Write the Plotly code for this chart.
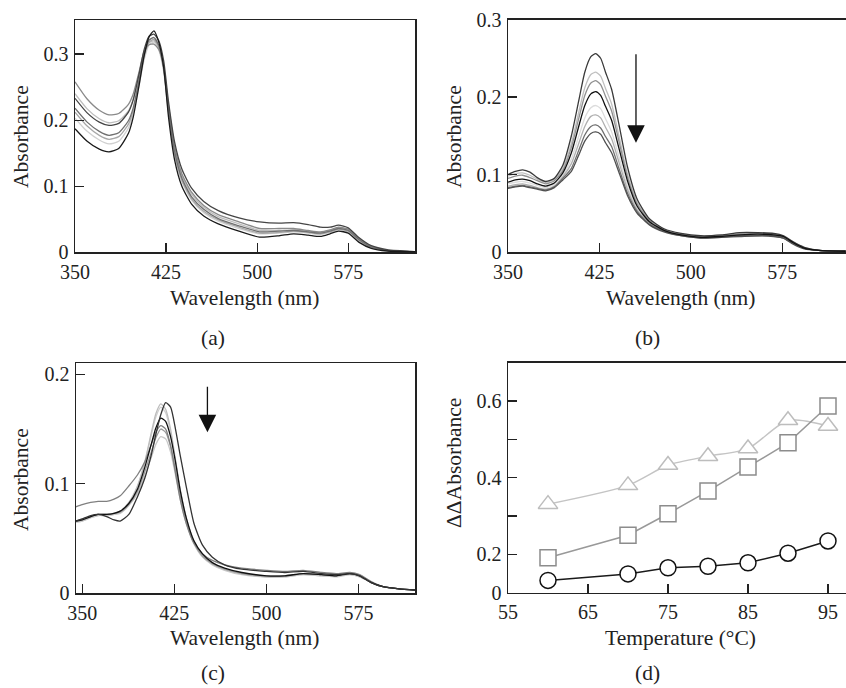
import plotly.graph_objects as go

# ---------------- data ----------------
# Panel (a)
a_wl = [350, 360, 370, 378, 386, 394, 398, 403, 407, 411, 415, 419, 423, 427, 432, 438, 446, 456, 468, 485,
        502, 518, 530, 542, 552, 560, 567, 575, 584, 594, 607, 630]
a_s1 = [.187, .168, .156, .152, .157, .180, .205, .255, .298, .326, .335, .318, .280, .205, .140, .100, .073, .055, .043, .032,
        .023, .025, .028, .026, .024, .028, .032, .029, .015, .006, .002, .001]
a_s2 = [.203, .183, .170, .164, .168, .188, .210, .255, .292, .314, .318, .306, .274, .210, .148, .107, .079, .060, .047, .036,
        .028, .029, .031, .029, .027, .030, .034, .031, .017, .007, .003, .001]
a_s3 = [.212, .191, .177, .171, .175, .194, .215, .260, .297, .318, .322, .310, .277, .213, .150, .109, .081, .062, .049, .038,
        .029, .030, .032, .030, .028, .031, .035, .032, .018, .008, .003, .001]
a_s4 = [.218, .197, .183, .177, .181, .199, .219, .263, .300, .321, .325, .313, .280, .216, .153, .112, .084, .065, .051, .040,
        .031, .032, .033, .031, .029, .032, .036, .033, .019, .008, .003, .001]
a_s5 = [.233, .211, .197, .192, .195, .212, .231, .272, .307, .327, .330, .320, .290, .228, .167, .126, .097, .077, .063, .052,
        .046, .044, .045, .042, .038, .038, .041, .037, .022, .010, .004, .001]
a_s6 = [.240, .217, .202, .196, .199, .214, .232, .270, .303, .317, .320, .310, .281, .220, .158, .116, .088, .068, .054, .043,
        .033, .033, .034, .032, .030, .033, .037, .034, .020, .009, .003, .001]
a_s7 = [.258, .232, .215, .208, .210, .224, .240, .275, .304, .314, .315, .307, .281, .222, .161, .119, .091, .071, .057, .046,
        .036, .036, .036, .033, .031, .034, .038, .035, .021, .009, .003, .001]

# Panel (b)
b_wl = [350, 356, 362, 368, 374, 381, 388, 395, 402, 408, 413, 418, 422, 426, 430, 435, 441, 448, 456, 466,
        478, 492, 508, 525, 540, 555, 568, 576, 584, 593, 605, 627]
b_s1 = [.100, .104, .106, .103, .096, .091, .095, .112, .150, .195, .232, .252, .256, .250, .232, .210, .165, .110, .068, .043,
        .030, .024, .021, .022, .025, .025, .024, .021, .013, .006, .002, .001]
b_s2 = [.098, .101, .102, .099, .094, .090, .094, .108, .140, .180, .212, .229, .232, .227, .211, .191, .150, .101, .064, .041,
        .029, .023, .020, .021, .024, .024, .023, .021, .013, .006, .002, .001]
b_s3 = [.095, .098, .099, .096, .092, .088, .092, .105, .135, .172, .202, .218, .221, .216, .201, .182, .143, .097, .062, .040,
        .029, .023, .020, .021, .023, .024, .023, .020, .012, .005, .002, .001]
b_s4 = [.090, .093, .094, .092, .088, .085, .089, .102, .128, .162, .189, .204, .207, .202, .188, .170, .134, .092, .059, .039,
        .028, .022, .019, .020, .022, .023, .022, .020, .012, .005, .002, .001]
b_s5 = [.088, .090, .091, .089, .086, .083, .087, .099, .120, .149, .173, .186, .189, .185, .172, .155, .123, .085, .056, .038,
        .028, .022, .019, .020, .022, .022, .022, .019, .011, .005, .002, .001]
b_s6 = [.085, .087, .088, .086, .083, .081, .085, .097, .114, .140, .162, .175, .177, .173, .161, .146, .116, .081, .054, .037,
        .027, .021, .019, .020, .021, .022, .021, .019, .011, .005, .002, .001]
b_s7 = [.083, .085, .086, .084, .082, .080, .084, .095, .108, .131, .151, .162, .164, .160, .149, .136, .108, .076, .052, .036,
        .027, .021, .018, .019, .021, .021, .021, .018, .011, .005, .002, .001]
b_s8 = [.082, .084, .085, .083, .081, .079, .083, .093, .104, .125, .143, .153, .155, .152, .141, .128, .103, .073, .050, .035,
        .026, .021, .018, .019, .020, .021, .020, .018, .010, .004, .002, .001]

# Panel (c)
c_wl = [345, 350, 357, 363, 370, 376, 381, 388, 395, 401, 406, 410, 414, 418, 422, 426, 430, 435, 441, 448,
        456, 466, 480, 500, 515, 530, 545, 557, 568, 576, 585, 595, 608, 621]
c_s1 = [.066, .068, .071, .072, .070, .067, .066, .072, .088, .105, .125, .145, .163, .174, .170, .150, .125, .096, .064, .044,
        .033, .026, .022, .020, .019, .020, .018, .017, .018, .016, .010, .006, .004, .003]
c_s2 = [.079, .081, .083, .084, .084, .086, .089, .098, .108, .120, .135, .147, .153, .150, .135, .110, .085, .063, .046, .036,
        .030, .026, .023, .021, .020, .021, .019, .018, .019, .017, .011, .006, .004, .003]
c_s3 = [.066, .067, .070, .072, .072, .073, .075, .082, .095, .115, .135, .151, .160, .157, .143, .120, .093, .068, .048, .036,
        .028, .023, .019, .016, .016, .018, .017, .016, .018, .016, .010, .006, .004, .003]
c_s4 = [.066, .067, .070, .072, .072, .073, .075, .083, .098, .120, .145, .164, .173, .168, .150, .122, .094, .068, .048, .035,
        .027, .022, .018, .015, .016, .018, .017, .016, .018, .016, .010, .006, .004, .003]
c_s5 = [.065, .066, .069, .071, .071, .072, .074, .082, .097, .119, .143, .161, .170, .165, .147, .120, .092, .067, .047, .034,
        .027, .022, .018, .015, .015, .017, .016, .016, .017, .015, .010, .006, .004, .003]
c_s6 = [.066, .067, .070, .072, .072, .073, .074, .081, .093, .111, .128, .142, .150, .147, .134, .112, .088, .065, .046, .034,
        .027, .022, .018, .016, .016, .018, .017, .016, .018, .016, .010, .006, .004, .003]
c_s7 = [.065, .066, .069, .071, .071, .072, .073, .080, .091, .107, .123, .136, .143, .141, .129, .108, .085, .063, .045, .033,
        .026, .021, .017, .015, .015, .017, .016, .015, .017, .015, .010, .006, .004, .003]

# Panel (d)
d_temp = [60, 70, 75, 80, 85, 90, 95]
d_circle = [0.132, 0.149, 0.165, 0.169, 0.178, 0.203, 0.235]
d_square = [0.191, 0.250, 0.306, 0.365, 0.428, 0.491, 0.587]
d_triangle = [0.331, 0.380, 0.433, 0.456, 0.476, 0.550, 0.535]

x_ticks_spec = [350, 425, 500, 575]
d_ticks_x = [55, 65, 75, 85, 95]
d_ticks_y = [0.1, 0.2, 0.3, 0.4, 0.5, 0.6]
d_ticks_y_text = ["0", "0.2", "", "0.4", "", "0.6"]

# ---------------- style ----------------
FONT = "Liberation Serif"
INK = "#222222"
W, H = 846, 688

a_series = [(a_s6, "#bdbdbd"), (a_s2, "#d0d0d0"), (a_s3, "#a8a8a8"), (a_s7, "#8a8a8a"),
            (a_s4, "#707070"), (a_s5, "#454545"), (a_s1, "#1a1a1a")]
b_series = [(b_s5, "#dcdcdc"), (b_s2, "#c0c0c0"), (b_s6, "#b0b0b0"), (b_s3, "#909090"),
            (b_s7, "#707070"), (b_s8, "#505050"), (b_s1, "#3a3a3a"), (b_s4, "#111111")]
c_series = [(c_s5, "#d0d0d0"), (c_s7, "#c8c8c8"), (c_s4, "#bdbdbd"), (c_s6, "#9a9a9a"),
            (c_s2, "#808080"), (c_s3, "#111111"), (c_s1, "#333333")]

fig = go.Figure()


def add_spectra(series, wl, xa, ya):
    for ys, col in series:
        fig.add_trace(go.Scatter(x=wl, y=ys, mode="lines", xaxis=xa, yaxis=ya,
                                 line=dict(color=col, width=1.3, shape="spline", smoothing=0.6),
                                 showlegend=False, hoverinfo="skip"))


add_spectra(a_series, a_wl, "x", "y")
add_spectra(b_series, b_wl, "x2", "y2")
add_spectra(c_series, c_wl, "x3", "y3")

fig.add_trace(go.Scatter(x=d_temp, y=d_triangle, mode="lines+markers", xaxis="x4", yaxis="y4",
                         line=dict(color="#c4c4c4", width=1.5, shape="spline", smoothing=0.7),
                         marker=dict(symbol="triangle-up", size=17, color="white",
                                     line=dict(color="#bdbdbd", width=1.5)),
                         showlegend=False, hoverinfo="skip", cliponaxis=False))
fig.add_trace(go.Scatter(x=d_temp, y=d_square, mode="lines+markers", xaxis="x4", yaxis="y4",
                         line=dict(color="#999999", width=1.5),
                         marker=dict(symbol="square", size=16, color="white",
                                     line=dict(color="#8c8c8c", width=1.5)),
                         showlegend=False, hoverinfo="skip", cliponaxis=False))
fig.add_trace(go.Scatter(x=d_temp, y=d_circle, mode="lines+markers", xaxis="x4", yaxis="y4",
                         line=dict(color="#1a1a1a", width=1.5),
                         marker=dict(symbol="circle", size=16, color="white",
                                     line=dict(color="#111111", width=1.5)),
                         showlegend=False, hoverinfo="skip", cliponaxis=False))

tickfont = dict(family=FONT, size=20, color=INK)


def ax(**kw):
    base = dict(showline=True, linecolor=INK, linewidth=1.5, ticks="inside", ticklen=9,
                tickwidth=1.2, tickcolor=INK, showgrid=False, zeroline=False, automargin=False,
                tickfont=tickfont, fixedrange=True, ticklabelstandoff=1)
    base.update(kw)
    return base


def fx(px):
    return px / W


def fy(py):
    return 1 - py / H


fig.update_layout(
    width=W, height=H, margin=dict(l=0, r=0, t=0, b=0, pad=0, autoexpand=False),
    paper_bgcolor="white", plot_bgcolor="white", showlegend=False,
    xaxis=ax(domain=[fx(75), fx(415)], range=[350, 630], anchor="y", mirror=True,
             tickvals=x_ticks_spec, ticktext=[str(v) for v in x_ticks_spec]),
    yaxis=ax(domain=[fy(252.3), fy(20)], range=[0, 0.3515], anchor="x", mirror=True,
             tickvals=[0, 0.1, 0.2, 0.3], ticktext=["0", "0.1", "0.2", "0.3"]),
    xaxis2=ax(domain=[fx(508), 1.0], range=[350, 627.3], anchor="y2", mirror=True,
              tickvals=x_ticks_spec, ticktext=[str(v) for v in x_ticks_spec]),
    yaxis2=ax(domain=[fy(252), fy(19.5)], range=[0, 0.3], anchor="x2",
              tickvals=[0, 0.1, 0.2, 0.3], ticktext=["0", "0.1", "0.2", "0.3"]),
    xaxis3=ax(domain=[fx(76), fx(415)], range=[345, 621], anchor="y3", mirror=True,
              tickvals=x_ticks_spec, ticktext=[str(v) for v in x_ticks_spec]),
    yaxis3=ax(domain=[fy(593.3), fy(363.3)], range=[0, 0.21], anchor="x3", mirror=True,
              tickvals=[0, 0.1, 0.2], ticktext=["0", "0.1", "0.2"]),
    xaxis4=ax(domain=[fx(508), 1.0], range=[55, 97.25], anchor="y4", mirror=True,
              tickvals=d_ticks_x, ticktext=[str(v) for v in d_ticks_x]),
    yaxis4=ax(domain=[fy(592.7), fy(362.7)], range=[0.1, 0.7], anchor="x4",
              tickvals=d_ticks_y, ticktext=d_ticks_y_text),
)

annots = []
tfont = dict(family=FONT, size=21.5, color=INK)


def txt(s, px, py, angle=0):
    annots.append(dict(text=s, x=fx(px), y=fy(py), xref="paper", yref="paper",
                       showarrow=False, font=tfont, textangle=angle,
                       xanchor="center", yanchor="middle"))


txt("Absorbance", 21, 137, -90)
txt("Wavelength (nm)", 245, 298)
txt("(a)", 213, 338)
txt("Absorbance", 454, 137, -90)
txt("Wavelength (nm)", 680, 298)
txt("(b)", 647, 338)
txt("Absorbance", 21, 480, -90)
txt("Wavelength (nm)", 245, 638)
txt("(c)", 213, 673)
txt("ΔΔAbsorbance", 454, 463, -90)
txt("Temperature (°C)", 680, 638)
txt("(d)", 647, 673)

# arrows
annots.append(dict(x=455, y=0.141, ax=455, ay=0.257, xref="x2", yref="y2", axref="x2", ayref="y2",
                   showarrow=True, arrowhead=2, arrowsize=2.7, arrowwidth=1.3, arrowcolor="#111111",
                   text="", standoff=0))
annots.append(dict(x=452, y=0.147, ax=452, ay=0.19, xref="x3", yref="y3", axref="x3", ayref="y3",
                   showarrow=True, arrowhead=2, arrowsize=2.7, arrowwidth=1.3, arrowcolor="#111111",
                   text="", standoff=0))
fig.update_layout(annotations=annots)

fig.write_html("out.html", config={"displayModeBar": False, "staticPlot": True},
               post_script="document.body.style.margin='0';document.body.style.overflow='hidden';")
